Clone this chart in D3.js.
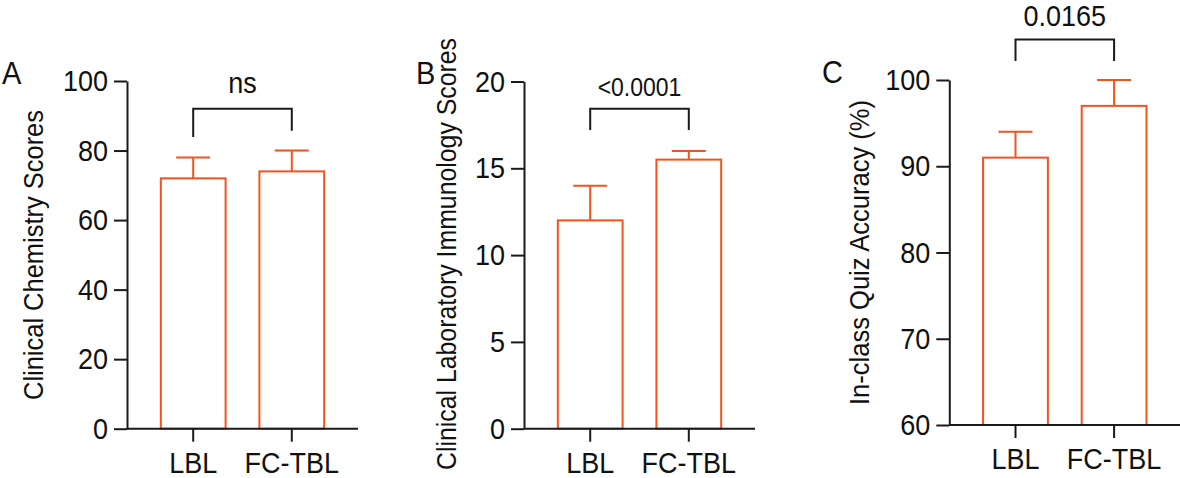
<!DOCTYPE html>
<html>
<head>
<meta charset="utf-8">
<script src="https://cdn.jsdelivr.net/npm/d3@7"></script>
<style>
  html, body { margin: 0; padding: 0; background: #fff; }
  svg { display: block; font-family: "Liberation Sans", Arial, Helvetica, sans-serif; }
  .tall { transform-box: fill-box; transform-origin: center; transform: scaleY(1.1); }
</style>
</head>
<body>
<svg id="chart" width="1180" height="478"></svg>
<script>
// ---- data ----
const categories = ["LBL", "FC-TBL"];

const chemMean = [72, 74];
const chemSD = [6, 6];
const chemTicks = [0, 20, 40, 60, 80, 100];

const immMean = [12, 15.5];
const immSD = [2, 0.5];
const immTicks = [0, 5, 10, 15, 20];

const quizMean = [91, 97];
const quizSD = [3, 3];
const quizTicks = [60, 70, 80, 90, 100];

const panelLetters = ["A", "B", "C"];
const yTitles = ["Clinical Chemistry Scores", "Clinical Laboratory Immunology Scores", "In-class Quiz Accuracy (%)"];
const pLabels = ["ns", "<0.0001", "0.0165"];
// bracket: [top level, left leg end, right leg end] in data units
const chemBracket = [92, 83.9, 85.7];
const immBracket = [18.43, 17.2, 17.2];
const quizBracket = [104.7, 102.2, 102.2];

// ---- layout ----
const ORANGE = "#F2531F";
const INK = "#1a1a1a";
const svg = d3.select("#chart");

const panels = [
  { mean: chemMean, sd: chemSD, ticks: chemTicks, domain: [0, 100], bracket: chemBracket,
    ax: 127, yTop: 81, yBot: 428.7, letterX: 2, letterY: 83, titleX: 34, titleY: 255, titleLen: 290,
    pSize: 27, pY: 92 },
  { mean: immMean, sd: immSD, ticks: immTicks, domain: [0, 20], bracket: immBracket,
    ax: 524, yTop: 81.5, yBot: 428.7, letterX: 416, letterY: 83, titleX: 447, titleY: 254, titleLen: 432,
    pSize: 23, pY: 95 },
  { mean: quizMean, sd: quizSD, ticks: quizTicks, domain: [60, 100], bracket: quizBracket,
    ax: 949.3, yTop: 80, yBot: 425, letterX: 822, letterY: 82, titleX: 860, titleY: 252.5, titleLen: 305,
    pSize: 27, pY: 25 }
];

panels.forEach((p, i) => {
  const g = svg.append("g");
  const x = d3.scaleBand().domain(categories).range([p.ax, p.ax + 231])
    .paddingInner(0.343).paddingOuter(0.343);
  const y = d3.scaleLinear().domain(p.domain).range([p.yBot, p.yTop]);
  const bw = x.bandwidth();

  // bars
  g.selectAll("rect.bar").data(categories).join("rect")
    .attr("x", d => x(d))
    .attr("y", (d, k) => y(p.mean[k]))
    .attr("width", bw)
    .attr("height", (d, k) => y(p.domain[0]) - y(p.mean[k]))
    .attr("fill", "#fff").attr("stroke", ORANGE).attr("stroke-width", 2);

  // error bars (upper only)
  g.selectAll("line.err").data(categories).join("line")
    .attr("x1", d => x(d) + bw / 2).attr("x2", d => x(d) + bw / 2)
    .attr("y1", (d, k) => y(p.mean[k])).attr("y2", (d, k) => y(p.mean[k] + p.sd[k]))
    .attr("stroke", ORANGE).attr("stroke-width", 2);
  g.selectAll("line.cap").data(categories).join("line")
    .attr("x1", d => x(d) + bw / 2 - 17).attr("x2", d => x(d) + bw / 2 + 17)
    .attr("y1", (d, k) => y(p.mean[k] + p.sd[k])).attr("y2", (d, k) => y(p.mean[k] + p.sd[k]))
    .attr("stroke", ORANGE).attr("stroke-width", 2);

  // axes
  const yAxis = g.append("g").attr("transform", `translate(${p.ax},0)`)
    .call(d3.axisLeft(y).tickValues(p.ticks).tickFormat(d3.format("d")).tickSize(13).tickSizeOuter(0).tickPadding(6));
  const xAxis = g.append("g").attr("transform", `translate(0,${p.yBot})`)
    .call(d3.axisBottom(x).tickSize(13).tickSizeOuter(0).tickPadding(11));
  [yAxis, xAxis].forEach(a => {
    a.selectAll("path, line").attr("stroke", INK).attr("stroke-width", 2);
    a.selectAll("text").attr("fill", "#111").attr("class", "tall").style("font-size", "27px")
      .style("font-family", '"Liberation Sans", Arial, sans-serif');
  });
  xAxis.select(".domain").attr("d", `M${p.ax},0H${p.ax + 231}`);

  // bracket
  const cx0 = x(categories[0]) + bw / 2, cx1 = x(categories[1]) + bw / 2;
  const [top, l0, l1] = p.bracket;
  g.append("path")
    .attr("d", `M${cx0},${y(l0)}V${y(top)}H${cx1}V${y(l1)}`)
    .attr("fill", "none").attr("stroke", INK).attr("stroke-width", 2);
  g.append("text")
    .attr("x", (cx0 + cx1) / 2).attr("y", p.pY)
    .attr("text-anchor", "middle").attr("fill", "#111").attr("class", "tall")
    .style("font-size", p.pSize + "px").text(pLabels[i]);

  // panel letter
  g.append("text").attr("x", p.letterX).attr("y", p.letterY)
    .attr("fill", "#111").attr("class", "tall").style("font-size", "29px").text(panelLetters[i]);

  // y title
  g.append("text")
    .attr("transform", `translate(${p.titleX},${p.titleY}) rotate(-90)`)
    .attr("text-anchor", "middle").attr("dy", "0.35em")
    .attr("fill", "#111").style("font-size", "27px")
    .attr("textLength", p.titleLen).attr("lengthAdjust", "spacingAndGlyphs")
    .text(yTitles[i]);
});
</script>
</body>
</html>
